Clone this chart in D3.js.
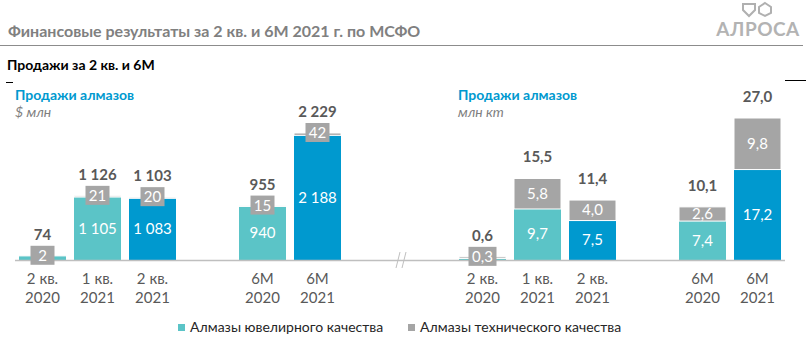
<!DOCTYPE html>
<html>
<head>
<meta charset="utf-8">
<script src="https://cdn.jsdelivr.net/npm/d3@7"></script>
<style>
  body { margin: 0; background: #fff; }
  svg { display: block; font-family: Lato, "Open Sans", sans-serif; }
</style>
</head>
<body>
<div id="chart"></div>
<script>
// periods on the x axis (two lines each) and a spacer slot between quarters and half-years
const periods = [["2 кв.", "2020"], ["1 кв.", "2021"], ["2 кв.", "2021"], ["6М", "2020"], ["6М", "2021"]];
const slots = ["q2_20", "q1_21", "q2_21", "gap", "h1_20", "h1_21"];
const barSlots = ["q2_20", "q1_21", "q2_21", "h1_20", "h1_21"];
const is2021 = [false, false, true, false, true];

// sales, $ mln
const usdJewel = [72, 1105, 1083, 940, 2188];
const usdTech = [2, 21, 20, 15, 42];
const usdTotal = [74, 1126, 1103, 955, 2229];

// sales, mln ct
const ctJewel = [0.3, 9.7, 7.5, 7.4, 17.2];
const ctTech = [0.3, 5.8, 4.0, 2.6, 9.8];
const ctTotal = [0.6, 15.5, 11.4, 10.1, 27.0];

const legendItems = ["Алмазы ювелирного качества", "Алмазы технического качества"];

const w = 811, h = 342;
const teal = "#5bc4c7", blue = "#0099cf", gray = "#a5a5a5", textGray = "#595959";
const baseY = 260;
const barW = 47;

const svg = d3.select("#chart").append("svg")
    .attr("width", w)
    .attr("height", h);

// header
svg.append("text")
    .attr("x", 8).attr("y", 37)
    .style("font-size", "16px").style("font-weight", "bold")
    .style("fill", "#808080")
    .text("Финансовые результаты за 2 кв. и 6М 2021 г. по МСФО");
svg.append("line")
    .attr("x1", 0).attr("x2", 803).attr("y1", 45.5).attr("y2", 45.5)
    .style("stroke", "#8c8c8c").style("stroke-width", 1.2);

// logo
const logo = svg.append("g").attr("transform", "translate(757,9)");
logo.append("path")
    .attr("d", "M-14,-5 L-2,-5 L-2,1 L-8,7 L-14,1 Z")
    .style("fill", "none").style("stroke", "#b0b0b0").style("stroke-width", 2);
logo.append("path")
    .attr("d", "M8,-6 L14,-2 L14,4 L8,7 L2,4 L2,-2 Z")
    .style("fill", "none").style("stroke", "#b0b0b0").style("stroke-width", 2);
svg.append("text")
    .attr("x", 758).attr("y", 36)
    .attr("text-anchor", "middle")
    .style("font-size", "19px").style("font-weight", "bold")
    .style("fill", "#b3b3b3").style("letter-spacing", "0.5px")
    .text("АЛРОСА");

svg.append("text")
    .attr("x", 7).attr("y", 70)
    .style("font-size", "14px").style("font-weight", "bold")
    .style("fill", "#000")
    .text("Продажи за 2 кв. и 6М");
svg.append("line").attr("x1", 6).attr("x2", 13).attr("y1", 82.5).attr("y2", 82.5)
    .style("stroke", "#000").style("stroke-width", 1);
svg.append("line").attr("x1", 785).attr("x2", 806).attr("y1", 80.5).attr("y2", 80.5)
    .style("stroke", "#000").style("stroke-width", 1);

function fmtUsd(v) {
    return d3.format(",")(v).replace(/,/g, " ");
}
function fmtCt(v) {
    return d3.format(".1f")(v).replace(".", ",");
}

function drawPanel(opts) {
    const x = d3.scalePoint().domain(slots).range(opts.xRange);
    const y = d3.scaleLinear().domain([0, opts.max]).range([baseY, opts.topY]);
    const g = svg.append("g");

    g.append("text")
        .attr("x", opts.titleX).attr("y", 100)
        .style("font-size", "14px").style("font-weight", "bold")
        .style("fill", blue)
        .text("Продажи алмазов");
    g.append("text")
        .attr("x", opts.titleX).attr("y", 117)
        .style("font-size", "14px").style("font-style", "italic")
        .style("fill", "#7f7f7f")
        .text(opts.unit);

    const rows = barSlots.map((s, i) => ({
        slot: s, i: i,
        jewel: opts.jewel[i], tech: opts.tech[i], total: opts.total[i]
    }));

    // jewellery segment
    g.selectAll(".jewel")
        .data(rows).enter().append("rect")
        .attr("class", "jewel")
        .attr("x", d => x(d.slot) - barW / 2)
        .attr("width", barW)
        .attr("y", d => y(d.jewel))
        .attr("height", d => baseY - y(d.jewel))
        .style("fill", d => is2021[d.i] ? blue : teal);

    // technical segment on top
    g.selectAll(".tech")
        .data(rows).enter().append("rect")
        .attr("class", "tech")
        .attr("x", d => x(d.slot) - barW / 2)
        .attr("width", barW)
        .attr("y", d => y(d.total))
        .attr("height", d => Math.max(0, y(d.jewel) - y(d.total)))
        .style("fill", gray)
        .style("stroke", "#fff").style("stroke-width", 1);

    // axis line
    g.append("line")
        .attr("x1", opts.axis[0]).attr("x2", opts.axis[1])
        .attr("y1", baseY + 0.5).attr("y2", baseY + 0.5)
        .style("stroke", "#bfbfbf").style("stroke-width", 1.5);

    // jewellery value labels
    g.selectAll(".jl")
        .data(rows.filter(d => baseY - y(d.jewel) > 20)).enter().append("text")
        .attr("x", d => x(d.slot))
        .attr("y", d => (y(d.jewel) + baseY) / 2 + 5)
        .attr("text-anchor", "middle")
        .style("font-size", "15px").style("fill", "#fff")
        .text(d => opts.fmt(d.jewel));

    // technical value labels: inside the segment if it is tall enough, else in a grey box
    rows.forEach(d => {
        const segH = y(d.jewel) - y(d.total);
        const cx = x(d.slot);
        if (segH > 12) {
            g.append("text")
                .attr("x", cx)
                .attr("y", (y(d.jewel) + y(d.total)) / 2 + 5)
                .attr("text-anchor", "middle")
                .style("font-size", "15px").style("fill", "#fff")
                .text(opts.fmt(d.tech));
        } else {
            const cy = Math.min(y(d.total), baseY - 2);
            const label = opts.fmt(d.tech);
            const bw = label.length > 2 ? 28 : 24;
            g.append("rect")
                .attr("x", cx - bw / 2).attr("y", cy - 10)
                .attr("width", bw).attr("height", 19)
                .style("fill", gray);
            g.append("text")
                .attr("x", cx).attr("y", cy + 5)
                .attr("text-anchor", "middle")
                .style("font-size", "15px").style("fill", "#fff")
                .text(label);
        }
    });

    // totals
    g.selectAll(".tot")
        .data(rows).enter().append("text")
        .attr("x", d => x(d.slot))
        .attr("y", d => y(d.total) - 16)
        .attr("text-anchor", "middle")
        .style("font-size", "15px").style("font-weight", "bold")
        .style("fill", textGray)
        .text(d => opts.fmt(d.total));

    // period labels
    rows.forEach(d => {
        const t = g.append("text")
            .attr("x", x(d.slot)).attr("y", 284)
            .attr("text-anchor", "middle")
            .style("font-size", "15px").style("fill", textGray);
        t.append("tspan").attr("x", x(d.slot)).text(periods[d.i][0]);
        t.append("tspan").attr("x", x(d.slot)).attr("dy", 19).text(periods[d.i][1]);
    });
}

drawPanel({
    xRange: [42.5, 317.5], max: 2229, topY: 133, titleX: 15, unit: "$ млн",
    jewel: usdJewel, tech: usdTech, total: usdTotal, fmt: fmtUsd, axis: [15, 396]
});
drawPanel({
    xRange: [482.5, 757.5], max: 27, topY: 118, titleX: 458, unit: "млн кт",
    jewel: ctJewel, tech: ctTech, total: ctTotal, fmt: fmtCt, axis: [396, 785]
});

// axis break marks
[396, 402].forEach(bx => {
    svg.append("line")
        .attr("x1", bx).attr("x2", bx + 4).attr("y1", 268).attr("y2", 252)
        .style("stroke", "#bfbfbf").style("stroke-width", 1);
});

// legend
const legend = svg.append("g").attr("transform", "translate(178,324)");
const legendX = [0, 230];
legendItems.forEach((name, i) => {
    legend.append("rect")
        .attr("x", legendX[i]).attr("y", 0)
        .attr("width", 7).attr("height", 7)
        .style("fill", i === 0 ? teal : gray);
    legend.append("text")
        .attr("x", legendX[i] + 12).attr("y", 8)
        .style("font-size", "14px").style("fill", "#262626")
        .text(name);
});
</script>
</body>
</html>
